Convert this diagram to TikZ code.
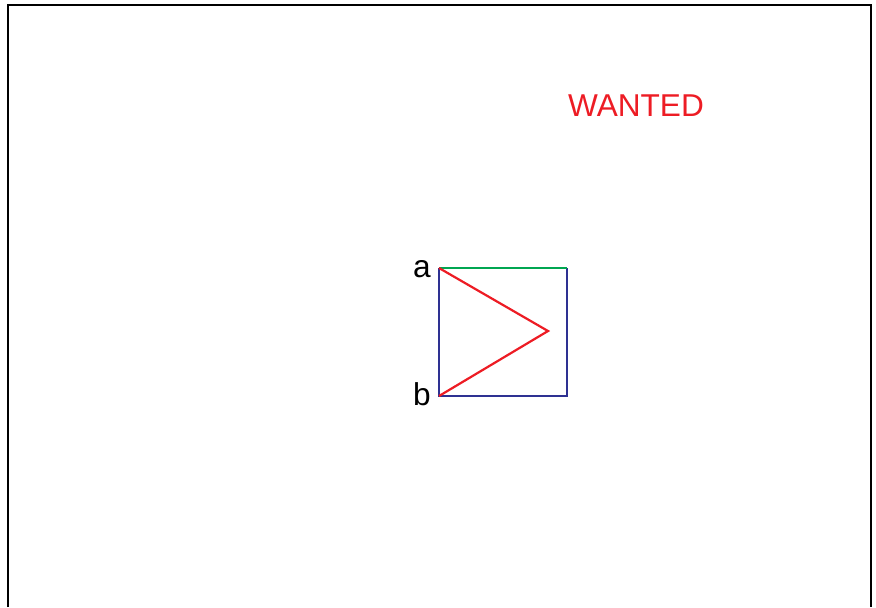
\documentclass[tikz,border=0pt]{standalone}
\usepackage{fontspec}
\setmainfont{Liberation Sans}
\usepackage{tikz}
\usetikzlibrary{positioning}
\definecolor{ink}{HTML}{000000}
\definecolor{wred}{HTML}{ED1C24}
\definecolor{wgreen}{HTML}{00A651}
\definecolor{wblue}{HTML}{2E3192}
\tikzset{
  frm/.style={draw=ink,line width=1.25pt},
  bl/.style={draw=wblue,line width=1.1pt},
  gl/.style={draw=wgreen,line width=1.1pt},
  rl/.style={draw=wred,line width=1.1pt,line join=miter},
  lbl/.style={inner sep=0pt,text=ink,font=\fontsize{15.8}{19}\selectfont},
  ttl/.style={lbl,text=wred}
}
\begin{document}
\begin{tikzpicture}[x=0.5pt,y=-0.5pt]
  \useasboundingbox (0,0) rectangle (876,607);
  % open frame, no bottom edge
  \draw[frm] (8,607) -- (8,5) -- (871,5) -- (871,607);
  % corners of the square and the tip
  \coordinate (a)   at (439,268);
  \coordinate (tr)  at (567,268);
  \coordinate (br)  at (567,396);
  \coordinate (b)   at (439,396);
  \coordinate (tip) at (548,331);
  % square sides
  \draw[bl] (tr) -- (br) -- (b) -- (a);
  \draw[gl] (a) -- (tr);
  % red wedge
  \draw[rl] (a) -- (tip) -- (b);
  % labels
  \node[lbl] (la) at (422,269) {a};
  \node[lbl] (lb) at (422,394) {b};
  \node[ttl] (want) at (636,106) {WANTED};
\end{tikzpicture}
\end{document}
